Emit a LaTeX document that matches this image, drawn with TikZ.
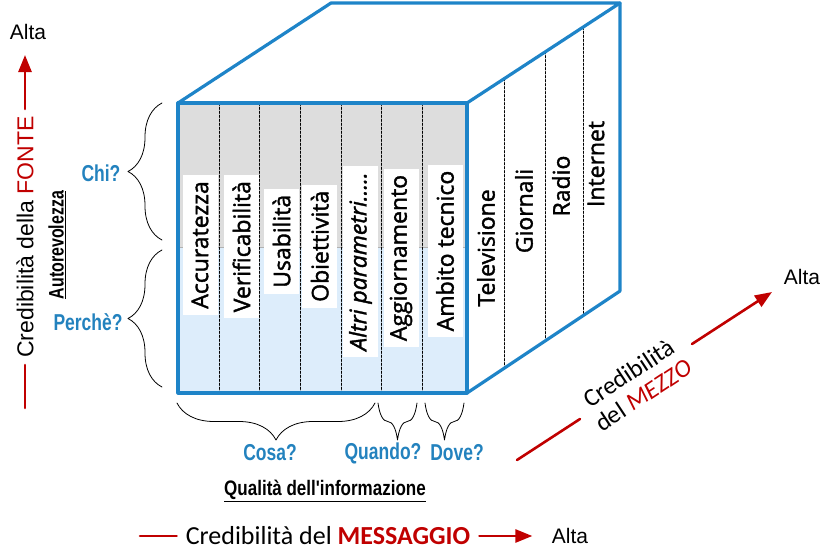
\documentclass[tikz,border=0pt]{standalone}
\usepackage{fontspec}
\setmainfont[Ligatures=TeXOff]{Liberation Sans}
\newfontfamily\calfont{Carlito}
\newfontfamily\segfont[FakeBold=1.6]{Open Sans}
\usetikzlibrary{calc,decorations.pathreplacing,arrows.meta}
\definecolor{cubeblue}{RGB}{30,132,200}
\definecolor{qblue}{RGB}{35,130,190}
\definecolor{darkred}{RGB}{192,0,0}
\definecolor{topgray}{RGB}{221,221,221}
\definecolor{lowblue}{RGB}{221,237,251}
\newcommand{\narrow}[1]{\scalebox{0.76}[1]{#1}}
\tikzset{
  parbox/.style={fill=white,rotate=90,inner xsep=6pt,minimum height=35pt,
    font=\segfont\fontsize{23}{25}\selectfont},
  mezzolbl/.style={rotate=90,inner sep=0pt,font=\segfont\fontsize{23}{25}\selectfont},
  qlbl/.style={text=qblue,font=\bfseries\fontsize{23}{25}\selectfont},
  redarrow/.style={darkred,line width=2.6pt},
  brc/.style={decorate,thick},
}
\begin{document}
\begin{tikzpicture}[x=1pt,y=-1pt,line cap=round,line join=round]
  \useasboundingbox (0,0) rectangle (831,552);

  % cube corners
  \coordinate (fa) at (178,103);
  \coordinate (fb) at (467,103);
  \coordinate (fc) at (467,393);
  \coordinate (fd) at (178,393);
  \coordinate (ba) at (331,3);
  \coordinate (bb) at (620,3);
  \coordinate (bc) at (620,291);

  % front face: grey top, light blue bottom
  \fill[topgray] (fa) rectangle (467,247);
  \fill[lowblue] (178,247) rectangle (fc);
  \draw[gray!60,thin] (178,247) -- (467,247);
  \foreach \x in {219,259.5,300,341,381.5,422.5}
    \draw[line width=0.7pt,dash pattern=on 2.5pt off 1.5pt] (\x,103) -- (\x,393);

  % right face dividers
  \foreach \t in {0.245,0.515,0.76}
    \draw[line width=0.7pt,dash pattern=on 2.5pt off 1.5pt]
      ($(fb)!\t!(bb)$) -- ($(fc)!\t!(bc)$);

  % parametri del messaggio
  \node[parbox] (accur) at (200,245) {Accuratezza};
  \node[parbox] (verif) at (241.5,246.7) {Verificabilità};
  \node[parbox] (usab) at (281.5,241.3) {Usabilità};
  \node[parbox] (obiet) at (319.7,246.3) {Obiettività};
  \node[parbox] (altri) at (360.5,261.5) {\itshape Altri parametri.....};
  \node[parbox] (aggio) at (401,258) {Aggiornamento};
  \node[parbox] (ambito) at (445,251) {Ambito tecnico};

  % mezzi
  \node[mezzolbl] (tv) at (486,248) {Televisione};
  \node[mezzolbl] (giorn) at (524,211) {Giornali};
  \node[mezzolbl] (radio) at (561,186) {Radio};
  \node[mezzolbl] (inet) at (596,164) {Internet};

  % cube outline
  \draw[cubeblue,line width=3.2pt] (fa) -- (fb) -- (fc) -- (fd) -- cycle;
  \draw[cubeblue,line width=3.2pt] (fa) -- (ba) -- (bb) -- (fb);
  \draw[cubeblue,line width=3.2pt] (bb) -- (bc) -- (fc);

  % graffe a sinistra
  \draw[brc,decoration={brace,amplitude=34pt}] (162,240) -- (162,103);
  \draw[brc,decoration={brace,amplitude=34pt}] (162,387) -- (162,250);
  \node[qlbl] (chi) at (101,173) {\narrow{Chi?}};
  \node[qlbl] (perche) at (88,322) {\narrow{Perchè?}};
  \node[rotate=90,font=\bfseries\fontsize{21}{23}\selectfont] (autor) at (57,245)
    {\narrow{\underline{Autorevolezza}}};

  % graffe in basso
  \draw[brc,decoration={brace,amplitude=37pt}] (375,403) -- (177,403);
  \draw[brc,decoration={brace,amplitude=37pt}] (417,403) -- (378,403);
  \draw[brc,decoration={brace,amplitude=37pt}] (464,403) -- (425,403);
  \node[qlbl] (cosa) at (270,453) {\narrow{Cosa?}};
  \node[qlbl] (quando) at (383,453) {\narrow{Quando?}};
  \node[qlbl] (dove) at (457,453) {\narrow{Dove?}};
  \node[font=\bfseries\fontsize{21}{23}\selectfont] (qualita) at (325,491)
    {\scalebox{0.81}[1]{\underline{Qualità dell'informazione}}};

  % asse della fonte
  \node[rotate=90,inner xsep=7pt,font=\fontsize{23}{25}\selectfont] (fonte) at (25,237)
    {Credibilità della \textcolor{darkred}{FONTE}};
  \node[font=\fontsize{21}{23}\selectfont] (altaF) at (28,32) {Alta};
  \coordinate (fonteEnd) at (25,408);
  \draw[redarrow] (fonte.west) -- (fonteEnd);
  \draw[redarrow,-{Triangle[length=17pt,width=13pt]}] (fonte.east) -- (25,55);

  % asse del messaggio
  \node[font=\calfont\fontsize{26}{28}\selectfont,inner xsep=9pt] (msg) at (328,536)
    {Credibilità del \textcolor{darkred}{\bfseries MESSAGGIO}};
  \node[font=\fontsize{21}{23}\selectfont] (altaM) at (570,536) {Alta};
  \coordinate (msgStart) at (140,536);
  \draw[redarrow] (msgStart) -- (msg.west);
  \draw[redarrow,-{Triangle[length=17pt,width=13pt]},shorten >=16pt] (msg.east) -- (altaM.west);

  % asse del mezzo
  \node[rotate=33.4,align=center,inner xsep=6pt,inner ysep=2pt,
    font=\calfont\fontsize{25}{26}\selectfont] (mezzo) at (636,384)
    {Credibilità\\del \textcolor{darkred}{\itshape MEZZO}};
  \node[font=\fontsize{21}{23}\selectfont] (altaZ) at (802,277) {Alta};
  \coordinate (mezzoStart) at (517,460);
  \draw[redarrow] (mezzoStart) -- (580,419);
  \draw[redarrow,-{Triangle[length=17pt,width=13pt]}] (692,344) -- (772,292);
\end{tikzpicture}
\end{document}
